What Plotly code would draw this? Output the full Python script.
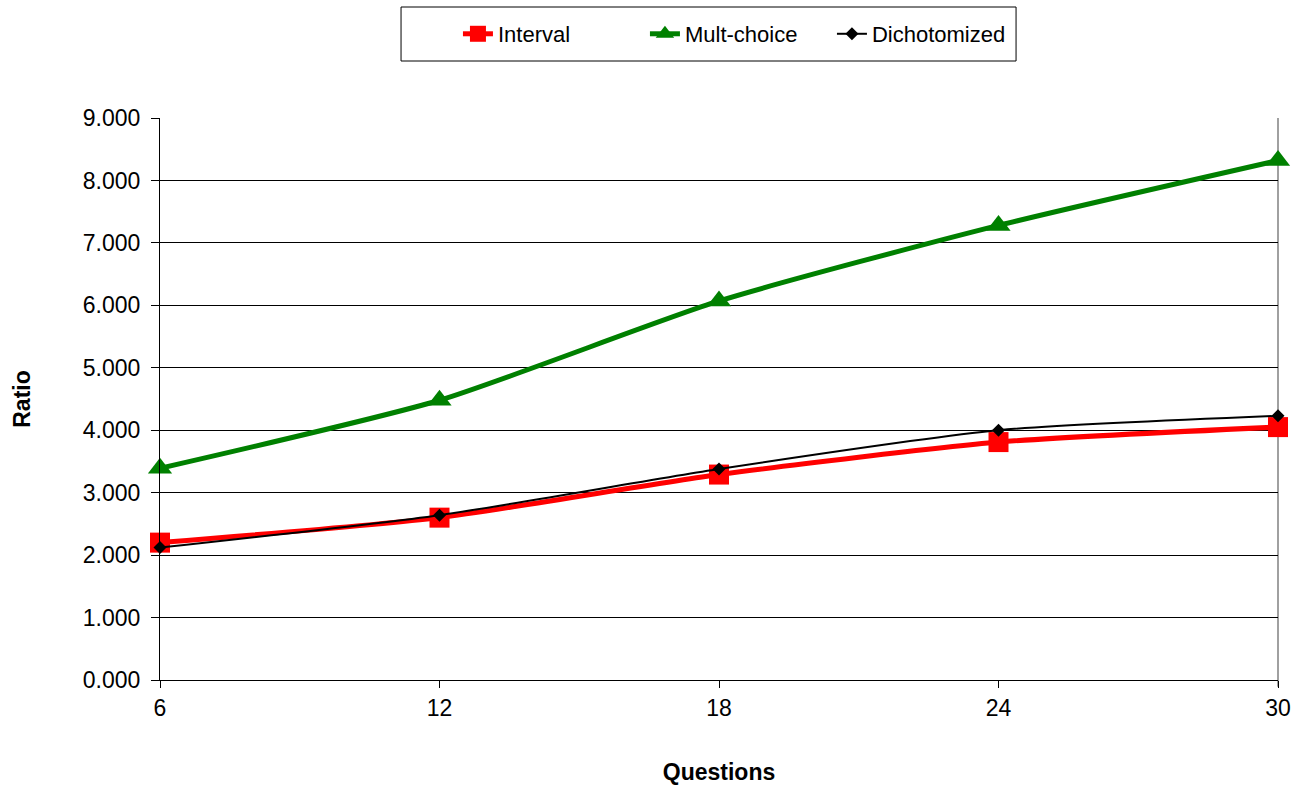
import plotly.graph_objects as go

questions = [6, 12, 18, 24, 30]
interval = [2.20, 2.60, 3.29, 3.81, 4.05]
mult_choice = [3.39, 4.48, 6.07, 7.28, 8.32]
dichotomized = [2.12, 2.64, 3.38, 4.00, 4.23]
y_ticks = [0, 1, 2, 3, 4, 5, 6, 7, 8, 9]

FONT = "Liberation Sans, Arial, sans-serif"

fig = go.Figure()
fig.add_trace(go.Scatter(
    x=questions, y=interval, name="Interval", mode="lines+markers",
    line=dict(color="#FF0000", width=5, shape="spline", smoothing=0.6),
    marker=dict(symbol="square", size=20, color="#FF0000"),
    cliponaxis=False,
))
fig.add_trace(go.Scatter(
    x=questions, y=mult_choice, name="Mult-choice", mode="lines+markers",
    line=dict(color="#008000", width=5, shape="spline", smoothing=0.6),
    marker=dict(symbol="triangle-up", size=21, color="#008000"),
    cliponaxis=False,
))
fig.add_trace(go.Scatter(
    x=questions, y=dichotomized, name="Dichotomized", mode="lines+markers",
    line=dict(color="#000000", width=2, shape="spline", smoothing=0.6),
    marker=dict(symbol="diamond", size=10, color="#000000"),
    cliponaxis=False,
))

fig.update_layout(
    width=1295, height=785,
    margin=dict(l=160, r=17, t=118, b=105, autoexpand=False),
    paper_bgcolor="white", plot_bgcolor="white",
    font=dict(family=FONT, size=22, color="black"),
    showlegend=True,
    legend=dict(
        orientation="h", x=0.2665, xanchor="left", y=1.1495, yanchor="middle",
        borderwidth=0, bgcolor="rgba(0,0,0,0)",
        font=dict(family=FONT, size=22), entrywidth=142, entrywidthmode="pixels",
        traceorder="normal",
    ),
    xaxis=dict(
        range=[6, 30], tickvals=questions, ticktext=[str(q) for q in questions],
        showgrid=False, zeroline=False, showline=True, linecolor="black", linewidth=1,
        ticks="outside", ticklen=7, tickcolor="black",
        tickfont=dict(family=FONT, size=23), automargin=False,
        title=dict(text="<b>Questions</b>", font=dict(family=FONT, size=23), standoff=44),
    ),
    yaxis=dict(
        range=[0, 9], tickvals=y_ticks, tickformat=".3f",
        showgrid=True, gridcolor="#000000", gridwidth=1,
        zeroline=False, showline=True, linecolor="black", linewidth=1,
        ticks="outside", ticklen=8, tickcolor="black", ticklabelstandoff=6,
        tickfont=dict(family=FONT, size=23), automargin=False,
        title=dict(text="<b>Ratio</b>", font=dict(family=FONT, size=23), standoff=45),
    ),
)

# legend frame
fig.add_shape(type="rect", xref="paper", yref="paper",
              x0=0.2156, x1=0.7657, y0=1.1014, y1=1.1975,
              line=dict(color="black", width=1), fillcolor="white", layer="below")

# right-hand plot-area border
fig.add_shape(type="line", xref="paper", yref="paper", x0=1, x1=1, y0=-0.012, y1=1,
              line=dict(color="#808080", width=1.5), layer="below")

fig.write_html("out.html")
